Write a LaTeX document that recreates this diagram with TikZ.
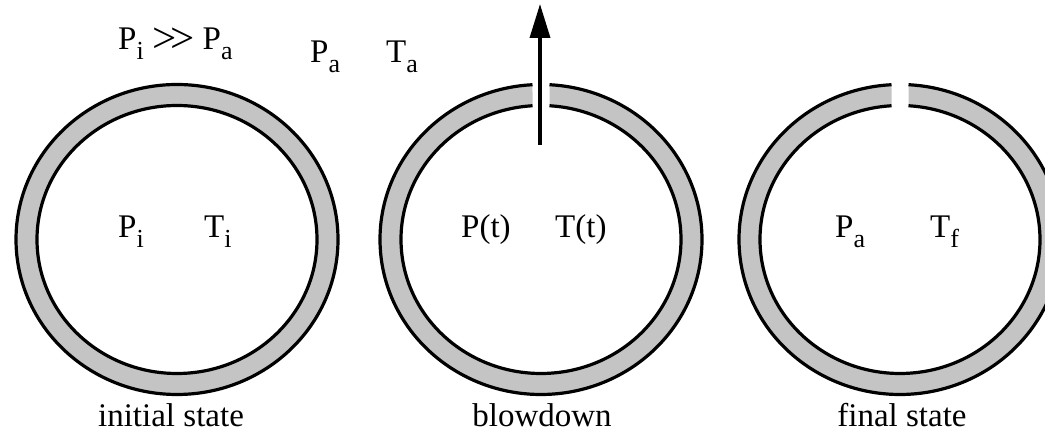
\documentclass[tikz,border=0pt]{standalone}
\usepackage{fontspec}
\setmainfont{Liberation Serif}
\usetikzlibrary{arrows.meta}
\definecolor{ringgray}{RGB}{196,196,196}
\newcommand{\lowsub}[1]{\raisebox{-10pt}{\fontsize{26}{28}\selectfont #1}}
\tikzset{
  lbl/.style={font=\fontsize{33}{38}\selectfont, inner sep=0pt, anchor=base west},
  captxt/.style={font=\fontsize{33}{38}\selectfont, inner sep=0pt, anchor=base},
  ringline/.style={line width=3.2pt, black},
  ringfill/.style={fill=ringgray},
}
\begin{document}
\begin{tikzpicture}[x=1pt,y=1pt]
\useasboundingbox (0pt,0pt) rectangle (1045pt,433pt);
\coordinate (r1) at (177pt,193.5pt);
\coordinate (r2) at (541pt,193.5pt);
\coordinate (r3) at (900pt,193.5pt);
% ring 1 (closed)
\fill[ringfill, even odd rule] (r1) ellipse[x radius=161pt, y radius=155pt]
  (r1) ellipse[x radius=140pt, y radius=134pt];
\draw[ringline] (r1) ellipse[x radius=161pt, y radius=155pt];
\draw[ringline] (r1) ellipse[x radius=140pt, y radius=134pt];
% rings 2 and 3 (opened at top)
\foreach \r in {r2,r3}{
  \fill[ringfill] ([shift={(93.03:161pt and 155pt)}]\r)
    arc[start angle=93.03, end angle=446.97, x radius=161pt, y radius=155pt]
    -- ([shift={(86.52:140pt and 134pt)}]\r)
    arc[start angle=86.52, end angle=-266.52, x radius=140pt, y radius=134pt]
    -- cycle;
  \draw[ringline] ([shift={(93.03:161pt and 155pt)}]\r)
    arc[start angle=93.03, end angle=446.97, x radius=161pt, y radius=155pt];
  \draw[ringline] ([shift={(93.48:140pt and 134pt)}]\r)
    arc[start angle=93.48, end angle=446.52, x radius=140pt, y radius=134pt];
}
% arrow
\coordinate (atail) at (540pt,288pt);
\coordinate (ahead) at (540pt,429pt);
\draw[line width=3.5pt, -{Triangle[length=34pt,width=20pt]}] (atail) -- (ahead);
% labels
\node[lbl] (top1) at (118pt,383pt) {P\lowsub{i}\hspace{9pt}\raisebox{-3pt}{\scalebox{1.3}{>\kern-5pt>}}\hspace{8pt}P\lowsub{a}};
\node[lbl] (topP) at (310pt,370pt) {P\lowsub{a}};
\node[lbl] (topT) at (386pt,370pt) {T\lowsub{a}};
\node[lbl] (p1) at (118pt,195pt) {P\lowsub{i}};
\node[lbl] (t1) at (204pt,195pt) {T\lowsub{i}};
\node[lbl] (p2) at (461pt,195pt) {P(t)};
\node[lbl] (t2) at (555pt,195pt) {T(t)};
\node[lbl] (p3) at (835pt,195pt) {P\lowsub{a}};
\node[lbl] (t3) at (930pt,195pt) {T\lowsub{f}};
\node[captxt] (c1) at (171pt,6pt) {initial state};
\node[captxt] (c2) at (542pt,6pt) {blowdown};
\node[captxt] (c3) at (902pt,6pt) {final state};
\end{tikzpicture}
\end{document}
